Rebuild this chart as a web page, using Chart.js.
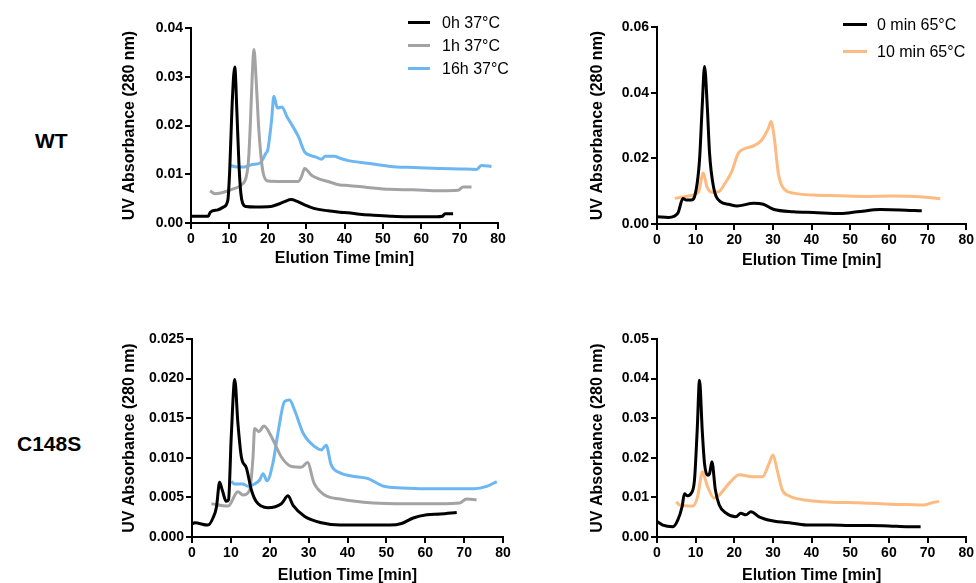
<!DOCTYPE html>
<html>
<head>
<meta charset="utf-8">
<script src="https://cdn.jsdelivr.net/npm/chart.js@4"></script>
<style>
body { margin: 0; width: 976px; height: 583px; overflow: hidden; background: #fff; position: relative; font-family: "Liberation Sans", Arial, sans-serif; color: #000; }
canvas { position: absolute; }
.row-label { position: absolute; font-weight: bold; font-size: 21px; line-height: 24px; }
.legend { position: absolute; font-size: 16px; }
.legend-item { display: flex; align-items: center; white-space: nowrap; }
.legend-line { height: 3px; }
</style>
</head>
<body>
<div class="row-label" style="left:35px; top:129px;">WT</div>
<div class="row-label" style="left:17px; top:432px;">C148S</div>
<canvas id="wtTemp" width="400" height="280" style="left:120px; top:0px;"></canvas>
<canvas id="wtHeat" width="388" height="280" style="left:588px; top:0px;"></canvas>
<canvas id="mutTemp" width="400" height="290" style="left:120px; top:300px;"></canvas>
<canvas id="mutHeat" width="388" height="290" style="left:588px; top:300px;"></canvas>
<script>
// WT, 37°C incubation
const wt0hX = [0, 2, 4.5, 5, 7, 8.5, 9.6, 10.1, 10.7, 11.4, 12, 12.5, 13, 13.5, 14.3, 17, 20.8, 22.5, 24.4, 26.1, 27.5, 29.6, 32, 35.7, 38.8, 40.9, 44, 47.5, 52, 56.2, 60, 64, 65.5, 66.2, 68.3];
const wt0hY = [0.0014, 0.0014, 0.0014, 0.0022, 0.0027, 0.0033, 0.0047, 0.011, 0.024, 0.032, 0.022, 0.012, 0.006, 0.004, 0.0034, 0.0033, 0.0034, 0.0038, 0.0044, 0.0048, 0.0045, 0.0037, 0.003, 0.0025, 0.0022, 0.0021, 0.0018, 0.0016, 0.0014, 0.0013, 0.0013, 0.0013, 0.0014, 0.0019, 0.0019];
const wt1hX = [5, 6.2, 8, 9.6, 11, 13.1, 14.4, 15, 15.5, 16, 16.4, 17, 17.6, 18.2, 18.8, 20, 24, 27.9, 28.8, 29.6, 31.4, 33.5, 35.7, 38.8, 40.9, 46, 51.9, 58, 64.9, 69.6, 70.9, 73.1];
const wt1hY = [0.0066, 0.006, 0.0062, 0.0066, 0.007, 0.0078, 0.0095, 0.013, 0.021, 0.031, 0.0356, 0.029, 0.02, 0.014, 0.0103, 0.0086, 0.0085, 0.0085, 0.0095, 0.0112, 0.0098, 0.009, 0.0085, 0.0078, 0.0077, 0.0073, 0.0069, 0.0068, 0.0066, 0.0067, 0.0074, 0.0074];
const wt16hX = [10, 12, 14, 16, 18, 19.5, 20, 21, 21.6, 22.5, 23.7, 25, 26, 28, 29.6, 31, 32.6, 34, 35, 37.4, 38.8, 41, 46.6, 53.6, 58, 64.9, 70, 74.4, 75.7, 78.3];
const wt16hY = [0.0118, 0.0115, 0.0115, 0.012, 0.0123, 0.0143, 0.015, 0.0211, 0.026, 0.0236, 0.0238, 0.0218, 0.0205, 0.0177, 0.0146, 0.0139, 0.0135, 0.0131, 0.0137, 0.0137, 0.0133, 0.0128, 0.0122, 0.0115, 0.0114, 0.0112, 0.0111, 0.011, 0.0118, 0.0116];

// WT, 65°C
const wt0minX = [0, 3, 5.4, 6.7, 7.6, 8.9, 9.7, 11, 11.7, 12.3, 13, 13.6, 14.6, 16.4, 18.5, 20.7, 25, 27.5, 30.1, 35.3, 40.5, 47.5, 51.8, 57.8, 62.9, 68.5];
const wt0minY = [0.0022, 0.002, 0.0033, 0.0078, 0.0073, 0.0073, 0.0083, 0.0195, 0.036, 0.048, 0.036, 0.0215, 0.0114, 0.0068, 0.006, 0.0055, 0.0063, 0.006, 0.0045, 0.0037, 0.0035, 0.0032, 0.0037, 0.0044, 0.0043, 0.004];
const wt10minX = [4.6, 8.5, 10.7, 12, 12.9, 14.2, 15.9, 17.6, 19.3, 21, 22.8, 25, 27.1, 28.8, 29.5, 30.3, 31.4, 32.7, 35.3, 40.5, 47, 54.2, 61, 68.1, 73.3];
const wt10minY = [0.0078, 0.0086, 0.0097, 0.0155, 0.0114, 0.0097, 0.0098, 0.0124, 0.0159, 0.0215, 0.023, 0.0238, 0.0256, 0.0291, 0.0312, 0.0266, 0.0154, 0.0109, 0.0094, 0.0088, 0.0086, 0.0084, 0.0085, 0.0083, 0.0077];

// C148S, 37°C incubation
const mut0hX = [0, 0.7, 4.1, 5.4, 6.3, 7.1, 7.8, 8.8, 9.4, 10.1, 11, 11.8, 12.7, 14, 15.3, 16.5, 19.5, 23, 24.7, 26, 29, 33.3, 38.1, 45, 50.9, 53.9, 56.9, 60.4, 63.8, 68.1];
const mut0hY = [0.0016, 0.0018, 0.0015, 0.0024, 0.0038, 0.0069, 0.0059, 0.0045, 0.0047, 0.0127, 0.0199, 0.0144, 0.0101, 0.0087, 0.0059, 0.0045, 0.0037, 0.0042, 0.0052, 0.004, 0.0026, 0.0018, 0.0015, 0.0015, 0.0015, 0.0017, 0.0024, 0.0028, 0.0029, 0.0031];
const mut1hX = [5, 9.3, 11.8, 13.1, 14.8, 15.7, 16.1, 17.2, 18.5, 20.4, 23, 25.6, 28.1, 29.7, 31.4, 34.1, 38.1, 46.6, 55, 63.8, 68.9, 70.6, 73.2];
const mut1hY = [0.0042, 0.0039, 0.0057, 0.0053, 0.0059, 0.0101, 0.0137, 0.0133, 0.014, 0.0127, 0.0101, 0.0089, 0.0088, 0.0094, 0.0068, 0.0053, 0.0048, 0.0043, 0.0042, 0.0042, 0.0043, 0.0048, 0.0047];
const mut16hX = [10.1, 11, 13.1, 14.4, 16.1, 17.4, 18.3, 19.3, 20.8, 22.1, 23.8, 25.1, 26.4, 28.6, 31.6, 33.3, 34.5, 35.8, 38.1, 41, 45.1, 49.4, 54, 59.7, 66, 72.6, 75.8, 78.4];
const mut16hY = [0.007, 0.0067, 0.0067, 0.0064, 0.0067, 0.0072, 0.008, 0.0071, 0.0093, 0.0131, 0.0171, 0.0173, 0.016, 0.0131, 0.0114, 0.011, 0.0116, 0.0091, 0.0081, 0.0077, 0.0074, 0.0064, 0.0062, 0.0061, 0.0061, 0.0061, 0.0064, 0.007];

// C148S, 65°C
const mut0minX = [0, 1.5, 4.1, 5.4, 6.5, 7.1, 7.8, 8.8, 9.7, 10.4, 11, 11.7, 12.3, 13.1, 13.6, 14.2, 15.1, 16.1, 17.8, 20.4, 21.7, 23, 24.3, 26.4, 29.8, 35, 39.3, 45, 50, 55, 60, 65, 68.2];
const mut0minY = [0.0039, 0.003, 0.0026, 0.0043, 0.0077, 0.0109, 0.0104, 0.011, 0.0144, 0.027, 0.0396, 0.027, 0.0185, 0.0156, 0.016, 0.019, 0.0119, 0.0081, 0.0061, 0.0051, 0.006, 0.0056, 0.0064, 0.0051, 0.0041, 0.0035, 0.003, 0.003, 0.0029, 0.0029, 0.0028, 0.0026, 0.0026];
const mut10minX = [5, 5.8, 9.3, 10.5, 11.8, 12.5, 13.1, 14.8, 16.1, 18.7, 21.3, 24.7, 27.3, 29, 30, 31.1, 32.4, 34.1, 39.3, 45, 50, 55, 60, 65, 69, 71, 73];
const mut10minY = [0.0089, 0.0081, 0.0078, 0.0102, 0.0165, 0.0145, 0.0127, 0.0098, 0.0106, 0.0136, 0.0157, 0.0152, 0.0152, 0.0186, 0.0207, 0.0169, 0.0119, 0.0104, 0.0092, 0.0088, 0.0087, 0.0085, 0.0083, 0.0082, 0.0081, 0.0086, 0.009];

const tempLabels = ['0h 37°C', '1h 37°C', '16h 37°C'];
const heatLabels = ['0 min 65°C', '10 min 65°C'];
const tempColors = ['#000000', '#a3a3a6', '#6cb6f2'];
const heatColors = ['#000000', '#fdbb82'];

Chart.defaults.font.family = '"Liberation Sans", Arial, sans-serif';
Chart.defaults.color = '#000';

function makeSeries(xs, ys, labels, colors) {
    return xs.map((x, i) => ({
        label: labels[i],
        data: x.map((v, j) => ({ x: v, y: ys[i][j] })),
        borderColor: colors[i],
        borderWidth: 3,
        pointRadius: 0,
        cubicInterpolationMode: 'monotone',
        fill: false
    }));
}

function makePanel(id, datasets, box, yMax, yStep, decimals) {
    const tickFont = { size: 14, weight: 'bold' };
    const titleFont = { size: 16, weight: 'bold' };
    const grid = { drawOnChartArea: false, tickLength: 6, color: '#000', lineWidth: 2 };
    new Chart(document.getElementById(id), {
        type: 'line',
        data: { datasets: datasets },
        options: {
            responsive: false,
            animation: false,
            layout: { padding: box.pad },
            plugins: { legend: { display: false }, tooltip: { enabled: false } },
            scales: {
                x: {
                    type: 'linear', min: 0, max: 80,
                    ticks: { stepSize: 10, font: tickFont, padding: 2, maxRotation: 0 },
                    grid: grid,
                    border: { color: '#000', width: 2 },
                    title: { display: true, text: 'Elution Time [min]', font: titleFont, padding: { top: 0, bottom: 0 } },
                    afterFit: s => { s.height = box.xh; }
                },
                y: {
                    min: 0, max: yMax,
                    ticks: { stepSize: yStep, font: tickFont, padding: 2, callback: v => v.toFixed(decimals) },
                    grid: grid,
                    border: { color: '#000', width: 2 },
                    title: { display: true, text: 'UV Absorbance (280 nm)', font: titleFont, padding: { top: 0, bottom: 0 } },
                    afterFit: s => { s.width = box.yw; }
                }
            }
        }
    });
}

function makeLegend(left, top, rowH, lineW, gap, labels, colors) {
    const box = document.createElement('div');
    box.className = 'legend';
    box.style.left = left + 'px';
    box.style.top = top + 'px';
    labels.forEach((label, i) => {
        const item = document.createElement('div');
        item.className = 'legend-item';
        item.style.height = rowH + 'px';
        const line = document.createElement('span');
        line.className = 'legend-line';
        line.style.width = lineW + 'px';
        line.style.marginRight = gap + 'px';
        line.style.background = colors[i];
        const text = document.createElement('span');
        text.textContent = label;
        item.appendChild(line);
        item.appendChild(text);
        box.appendChild(item);
    });
    document.body.appendChild(box);
}

makePanel('wtTemp', makeSeries([wt0hX, wt1hX, wt16hX], [wt0hY, wt1hY, wt16hY], tempLabels, tempColors),
    { pad: { top: 28, right: 22, bottom: 12, left: 0 }, xh: 45, yw: 71 }, 0.04, 0.01, 2);
makePanel('wtHeat', makeSeries([wt0minX, wt10minX], [wt0minY, wt10minY], heatLabels, heatColors),
    { pad: { top: 27, right: 9, bottom: 10, left: 0 }, xh: 46, yw: 69 }, 0.06, 0.02, 2);
makePanel('mutTemp', makeSeries([mut0hX, mut1hX, mut16hX], [mut0hY, mut1hY, mut16hY], tempLabels, tempColors),
    { pad: { top: 39, right: 17, bottom: 5, left: 0 }, xh: 48, yw: 72 }, 0.025, 0.005, 3);
makePanel('mutHeat', makeSeries([mut0minX, mut10minX], [mut0minY, mut10minY], heatLabels, heatColors),
    { pad: { top: 39, right: 8, bottom: 5, left: 0 }, xh: 48, yw: 69 }, 0.05, 0.01, 2);

makeLegend(408, 11, 23, 22, 12, tempLabels, tempColors);
makeLegend(843, 11, 27, 24, 10, heatLabels, heatColors);
</script>
</body>
</html>
